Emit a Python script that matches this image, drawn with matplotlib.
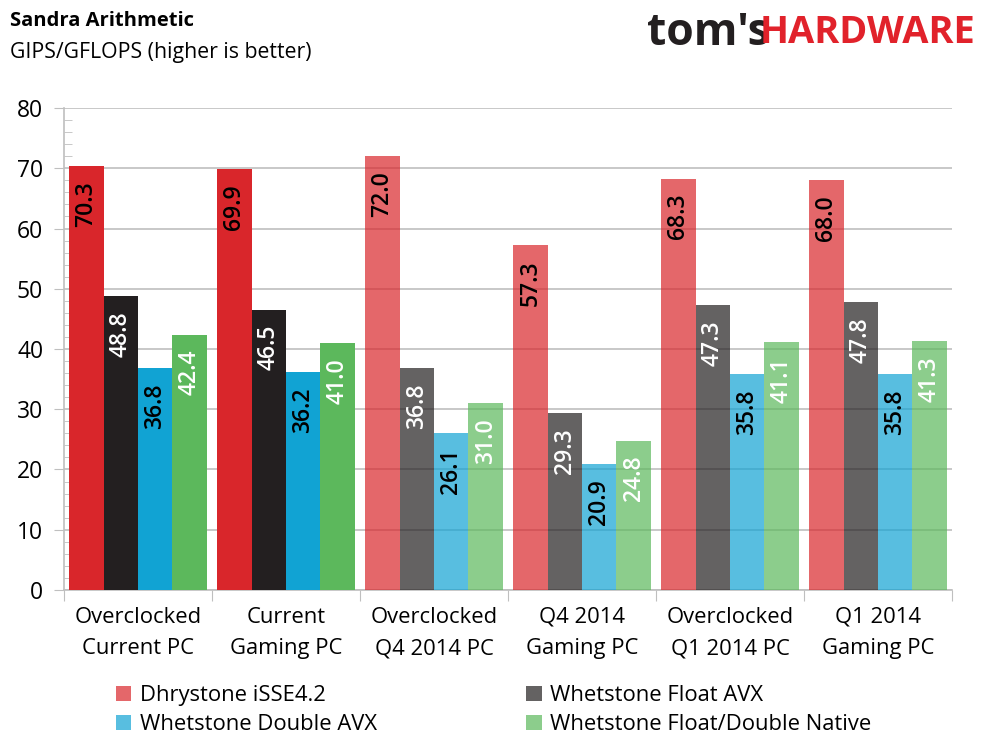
import numpy as np
import matplotlib
matplotlib.use('Agg')
import matplotlib.pyplot as plt
from matplotlib.ticker import MultipleLocator
from matplotlib.patches import Patch

plt.rcParams['font.family'] = ['Open Sans', 'DejaVu Sans']

categories = ['Overclocked\nCurrent PC', 'Current\nGaming PC', 'Overclocked\nQ4 2014 PC',
              'Q4 2014\nGaming PC', 'Overclocked\nQ1 2014 PC', 'Q1 2014\nGaming PC']
series = ['Dhrystone iSSE4.2', 'Whetstone Float AVX', 'Whetstone Double AVX',
          'Whetstone Float/Double Native']
dhrystone = [70.3, 69.9, 72.0, 57.3, 68.3, 68.0]
float_avx = [48.8, 46.5, 36.8, 29.3, 47.3, 47.8]
double_avx = [36.8, 36.2, 26.1, 20.9, 35.8, 35.8]
native = [42.4, 41.0, 31.0, 24.8, 41.1, 41.3]
values = [dhrystone, float_avx, double_avx, native]

colors = ['#D9262B', '#231F20', '#11A3D3', '#5CB85C']
label_colors = ['black', 'white', 'black', 'white']
strong = [True, True, False, False, False, False]  # first two groups are full colour

fig = plt.figure(figsize=(9.89, 7.42), dpi=100)
ax = fig.add_axes([0.0647, 0.2049, 0.8979, 0.6495])

x = np.arange(len(categories))
w = 0.233
for s in range(4):
    for i in range(len(categories)):
        xi = x[i] + (s - 1.5) * w
        alpha = 1.0 if strong[i] else 0.7
        ax.bar(xi, values[s][i], width=w, color=colors[s], alpha=alpha, zorder=3)
        ax.annotate('%.1f' % values[s][i], (xi, values[s][i]), xytext=(0, -11),
                    textcoords='offset points', rotation=90, ha='center', va='top',
                    fontsize=16.5, fontweight='semibold', color=label_colors[s], zorder=4)

ax.set_xlim(-0.5, len(categories) - 0.5)
ax.set_ylim(0, 80)
ax.yaxis.set_major_locator(MultipleLocator(10))
ax.yaxis.set_minor_locator(MultipleLocator(2))
ax.grid(axis='y', which='major', color='#BFBFBF', lw=1.2, zorder=0)
ax.tick_params(axis='y', which='major', direction='out', length=7, color='#BFBFBF',
               labelsize=16.5, pad=8)
ax.tick_params(axis='y', which='minor', direction='in', length=6, color='#BFBFBF')

ax.set_xticks(np.arange(len(categories) + 1) - 0.5)
ax.set_xticklabels([])
ax.set_xticks(x, minor=True)
ax.set_xticklabels(categories, minor=True, fontsize=15.8, linespacing=1.65)
ax.tick_params(axis='x', which='major', direction='out', length=8, color='#BFBFBF')
ax.tick_params(axis='x', which='minor', length=0, pad=12)

for sp in ['top', 'right']:
    ax.spines[sp].set_visible(False)
for sp in ['left', 'bottom']:
    ax.spines[sp].set_color('#BFBFBF')
    ax.spines[sp].set_linewidth(1.2)

handles = [Patch(facecolor=colors[s], alpha=0.7) for s in range(4)]
order = [0, 2, 1, 3]
fig.legend([handles[k] for k in order], [series[k] for k in order], ncol=2,
           loc='lower left', bbox_to_anchor=(0.097, -0.017), frameon=False, fontsize=15.8,
           handlelength=0.7, handleheight=0.7, handletextpad=0.4, columnspacing=6.8,
           labelspacing=0.35)

fig.text(0.010, 0.972, 'Sandra Arithmetic', fontsize=14.5, fontweight='bold', va='center')
fig.text(0.010, 0.929, 'GIPS/GFLOPS (higher is better)', fontsize=15.3, va='center')
fig.text(0.778, 0.955, "tom's", fontsize=32, fontweight='bold', color='#231F20',
         ha='right', va='center')
fig.text(0.986, 0.955, 'HARDWARE', fontsize=27.4, fontweight='bold', color='#E1222B',
         ha='right', va='center')

fig.savefig('out.png', dpi=100)
